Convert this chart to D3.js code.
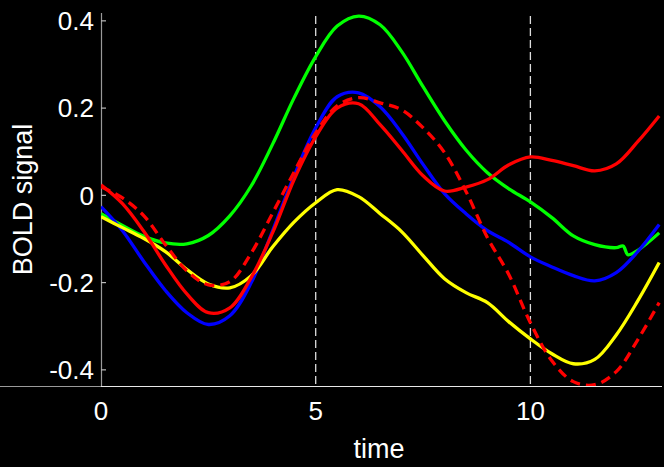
<!DOCTYPE html>
<html>
<head>
<meta charset="utf-8">
<script src="https://cdn.jsdelivr.net/npm/d3@7"></script>
<style>
  html, body { margin: 0; padding: 0; background: #000; }
  svg { display: block; }
  text { font-family: "Liberation Sans", Arial, Helvetica, sans-serif; fill: #fff; }
</style>
</head>
<body>
<svg id="chart" width="664" height="467"></svg>
<script>
// Sample times (s)
const time = [0, 0.5, 1, 1.5, 2, 2.5, 3, 3.5, 4, 4.5, 5, 5.5, 6, 6.5, 7, 7.5, 8, 8.5, 9, 9.5, 10, 10.5, 11, 11.5, 12, 12.5, 13];
// The green trace has a short extra sampling around its late dip
const greenTime = [0, 0.5, 1, 1.5, 2, 2.5, 3, 3.5, 4, 4.5, 5, 5.5, 6, 6.5, 7, 7.5, 8, 8.5, 9, 9.5, 10, 10.5, 11, 11.5, 12, 12.16, 12.27, 12.5, 13];

// BOLD responses
const greenSeries  = [-0.042, -0.069, -0.094, -0.109, -0.111, -0.092, -0.047, 0.022, 0.118, 0.224, 0.318, 0.388, 0.411, 0.391, 0.330, 0.249, 0.171, 0.104, 0.052, 0.015, -0.015, -0.051, -0.093, -0.113, -0.120, -0.116, -0.136, -0.126, -0.086];
const blueSeries   = [-0.026, -0.081, -0.152, -0.218, -0.269, -0.296, -0.276, -0.200, -0.080, 0.045, 0.155, 0.226, 0.235, 0.203, 0.143, 0.071, 0.004, -0.042, -0.081, -0.108, -0.141, -0.164, -0.184, -0.196, -0.177, -0.129, -0.067];
const redSeries    = [0.024, -0.019, -0.083, -0.159, -0.226, -0.269, -0.258, -0.188, -0.085, 0.037, 0.134, 0.200, 0.210, 0.162, 0.104, 0.045, 0.010, 0.019, 0.036, 0.070, 0.088, 0.080, 0.068, 0.056, 0.072, 0.123, 0.182];
const redDashed    = [0.020, -0.006, -0.047, -0.113, -0.173, -0.205, -0.198, -0.132, -0.040, 0.054, 0.143, 0.205, 0.224, 0.212, 0.196, 0.155, 0.098, 0.009, -0.097, -0.182, -0.292, -0.379, -0.427, -0.434, -0.404, -0.331, -0.246];
const yellowSeries = [-0.049, -0.074, -0.099, -0.129, -0.170, -0.203, -0.212, -0.184, -0.118, -0.061, -0.017, 0.013, -0.003, -0.042, -0.083, -0.138, -0.191, -0.223, -0.246, -0.290, -0.329, -0.363, -0.386, -0.376, -0.320, -0.242, -0.154];

// Axis ticks and markers
const yTicks = [-0.4, -0.2, 0, 0.2, 0.4];
const yTickLabels = ["-0.4", "-0.2", "0", "0.2", "0.4"];
const xTicks = [0, 5, 10];
const xTickLabels = ["0", "5", "10"];
const eventTimes = [5, 10];

const svg = d3.select("#chart");
const plotLeft = 101, plotRight = 662, plotTop = 13, plotBottom = 386;

const x = d3.scaleLinear().domain([0, 13.065]).range([plotLeft, plotRight]);
const y = d3.scaleLinear().domain([-0.437, 0.418]).range([plotBottom, plotTop]);

// Event markers
svg.selectAll("line.event").data(eventTimes).enter().append("line")
  .attr("class", "event")
  .attr("x1", d => x(d)).attr("x2", d => x(d))
  .attr("y1", 16).attr("y2", plotBottom)
  .attr("stroke", "#dcdcdc").attr("stroke-width", 1.3)
  .attr("stroke-dasharray", "8,4");

// Axes lines
svg.append("line").attr("x1", 0).attr("x2", plotLeft).attr("y1", plotBottom + 0.5).attr("y2", plotBottom + 0.5)
  .attr("stroke", "#9a9a9a").attr("stroke-width", 1.2);
svg.append("line").attr("x1", plotLeft).attr("x2", plotRight).attr("y1", plotBottom + 0.5).attr("y2", plotBottom + 0.5)
  .attr("stroke", "#e8e8e8").attr("stroke-width", 1.2);
svg.append("line").attr("x1", plotLeft + 0.5).attr("x2", plotLeft + 0.5).attr("y1", plotTop).attr("y2", plotBottom)
  .attr("stroke", "#9a9a9a").attr("stroke-width", 1.2);

// Y ticks + labels
svg.selectAll("line.ytick").data(yTicks).enter().append("line")
  .attr("class", "ytick")
  .attr("x1", plotLeft).attr("x2", plotLeft + 5)
  .attr("y1", d => y(d)).attr("y2", d => y(d))
  .attr("stroke", "#bbbbbb").attr("stroke-width", 1.2);
svg.selectAll("text.ylab").data(yTicks).enter().append("text")
  .attr("class", "ylab")
  .attr("x", 94).attr("y", d => y(d))
  .attr("dy", "0.36em")
  .attr("text-anchor", "end")
  .attr("font-size", 26)
  .text((d, i) => yTickLabels[i]);

// X labels
svg.selectAll("text.xlab").data(xTicks).enter().append("text")
  .attr("class", "xlab")
  .attr("x", d => x(d)).attr("y", 420)
  .attr("text-anchor", "middle")
  .attr("font-size", 26)
  .text((d, i) => xTickLabels[i]);

// Axis titles
svg.append("text").attr("x", 379).attr("y", 458)
  .attr("text-anchor", "middle").attr("font-size", 27).text("time");
svg.append("text")
  .attr("transform", "translate(32," + ((plotTop + plotBottom) / 2) + ") rotate(-90)")
  .attr("text-anchor", "middle").attr("font-size", 27).text("BOLD signal");

// Curves
const line = d3.line()
  .x(d => x(d[0]))
  .y(d => y(d[1]))
  .curve(d3.curveCatmullRom.alpha(0.5));

const pairs = (ts, vs) => vs.map((v, i) => [ts[i], v]);

const series = [
  { points: pairs(greenTime, greenSeries), color: "#00ff00", dash: null },
  { points: pairs(time, blueSeries),       color: "#0000ff", dash: null },
  { points: pairs(time, yellowSeries),     color: "#ffff00", dash: null },
  { points: pairs(time, redSeries),        color: "#ff0000", dash: null },
  { points: pairs(time, redDashed),        color: "#ff0000", dash: "10,6" }
];

svg.append("defs").append("clipPath").attr("id", "plotclip")
  .append("rect").attr("x", plotLeft).attr("y", 0).attr("width", plotRight - plotLeft + 2).attr("height", plotBottom);

svg.append("g").attr("clip-path", "url(#plotclip)")
  .selectAll("path").data(series).enter().append("path")
  .attr("d", d => line(d.points))
  .attr("fill", "none")
  .attr("stroke", d => d.color)
  .attr("stroke-width", 3.3)
  .attr("stroke-linejoin", "round")
  .attr("stroke-dasharray", d => d.dash);
</script>
</body>
</html>
